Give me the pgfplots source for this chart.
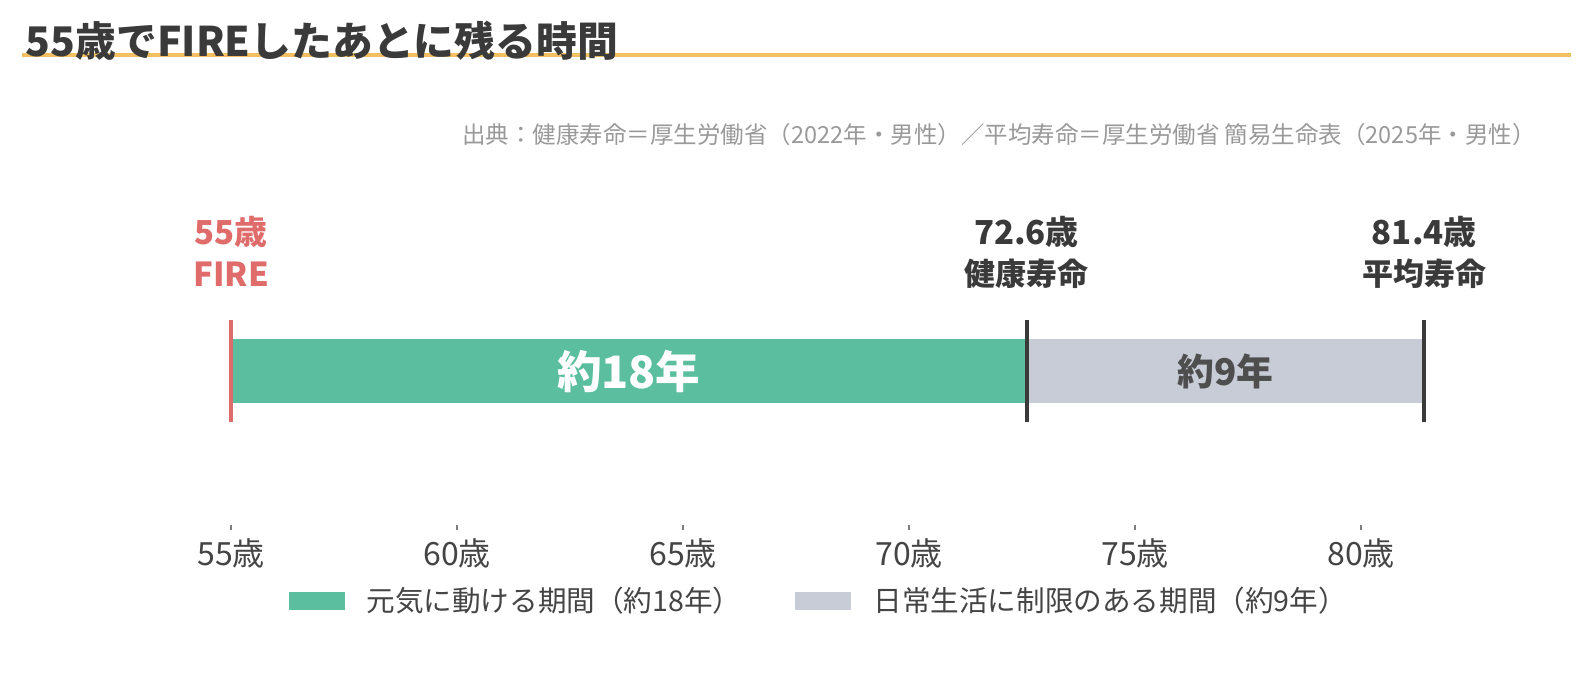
\documentclass[border=0pt]{standalone}
\usepackage{pgfplots}
\pgfplotsset{compat=1.18}
\usepackage{fontspec}
\setmainfont{Noto Sans CJK JP}
\definecolor{cgreen}{HTML}{5BBF9F}
\definecolor{cgray}{HTML}{C8CCD6}
\definecolor{cred}{HTML}{E06B6B}
\definecolor{cdark}{HTML}{3A3A3A}
\definecolor{corange}{HTML}{F2C063}
\definecolor{ctick}{HTML}{444444}
\definecolor{csub}{HTML}{999999}
\begin{document}
\begin{tikzpicture}
\begin{axis}[
  x=22.6pt, y=0.5pt,
  xmin=50, xmax=85, ymin=0, ymax=330,
  clip=false,
  axis x line*=bottom, axis y line=none,
  x axis line style={draw=none},
  xtick={55,60,65,70,75,80},
  xticklabels={55歳,60歳,65歳,70歳,75歳,80歳},
  ytick=\empty,
  tick align=outside,
  major tick length=2.5pt,
  tick style={draw=ctick!70, line width=0.7pt},
  xticklabel style={font=\fontsize{16pt}{18pt}\selectfont, text=ctick, yshift=-1pt},
  legend style={at={(0.515,-0.230)}, anchor=center, draw=none, fill=none,
    font=\fontsize{14.3pt}{16pt}\selectfont, text=ctick,
    /tikz/every odd column/.append style={column sep=9pt},
    /tikz/every even column/.append style={column sep=25pt}},
  legend columns=2,
  legend cell align=left,
]
\coordinate (bbsw) at (axis cs:49.889,-165);
\coordinate (bbne) at (axis cs:85.066,525);
% bars
\addplot[fill=cgreen, draw=none,
  legend image code/.code={\fill[cgreen] (0pt,-4.5pt) rectangle (28pt,4.5pt);}]
  coordinates {(55,122) (72.6,122) (72.6,186) (55,186)} -- cycle;
\addlegendentry{元気に動ける期間（約18年）}
\addplot[fill=cgray, draw=none,
  legend image code/.code={\fill[cgray] (0pt,-4.5pt) rectangle (28pt,4.5pt);}]
  coordinates {(72.6,122) (81.4,122) (81.4,186) (72.6,186)} -- cycle;
\addlegendentry{日常生活に制限のある期間（約9年）}
% vertical markers
\addplot[cred, line width=2pt, forget plot] coordinates {(55,103) (55,205)};
\addplot[cdark, line width=2pt, forget plot] coordinates {(72.6,103) (72.6,205)};
\addplot[cdark, line width=2pt, forget plot] coordinates {(81.4,103) (81.4,205)};
% labels
\node[text=cred, font=\bfseries\fontsize{16.5pt}{18pt}\selectfont] at (axis cs:55,293.5) {55歳};
\node[text=cred, font=\bfseries\fontsize{16.5pt}{18pt}\selectfont] at (axis cs:55,251) {FIRE};
\node[text=cdark, font=\bfseries\fontsize{16.5pt}{18pt}\selectfont] at (axis cs:72.6,293.5) {72.6歳};
\node[text=cdark, font=\bfseries\fontsize{15.5pt}{18pt}\selectfont] at (axis cs:72.6,251) {健康寿命};
\node[text=cdark, font=\bfseries\fontsize{16.5pt}{18pt}\selectfont] at (axis cs:81.4,293.5) {81.4歳};
\node[text=cdark, font=\bfseries\fontsize{15.5pt}{18pt}\selectfont] at (axis cs:81.4,251) {平均寿命};
\node[text=white, font=\bfseries\fontsize{22.3pt}{24pt}\selectfont] at (axis cs:63.8,154) {約18年};
\node[text=cdark!90, font=\bfseries\fontsize{18.4pt}{20pt}\selectfont] at (axis cs:77,154) {約9年};
% title
\draw[corange, line width=2pt] (axis cs:50.382,470) -- (axis cs:84.646,470);
\node[anchor=west, text=cdark, font=\bfseries\fontsize{20.4pt}{22pt}\selectfont, inner sep=0pt] at (axis cs:50.451,484.4) {55歳でFIREしたあとに残る時間};
\node[anchor=east, text=csub, font=\fontsize{11.75pt}{13pt}\selectfont, inner sep=0pt] at (axis cs:83.87,390) {出典：健康寿命＝厚生労働省（2022年・男性）／平均寿命＝厚生労働省 簡易生命表（2025年・男性）};
\end{axis}
\pgfresetboundingbox
\path[use as bounding box] (bbsw) rectangle (bbne);
\end{tikzpicture}
\end{document}
